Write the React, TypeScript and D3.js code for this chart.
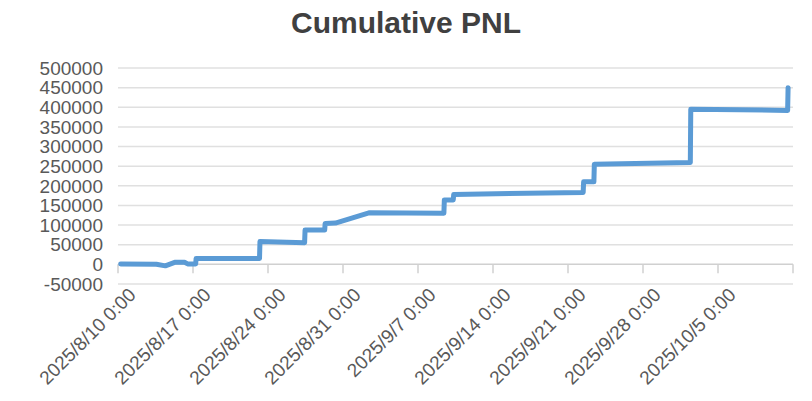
import React from "react";
import * as d3 from "d3";

const titleText = "Cumulative PNL";

// Timestamps of the cumulative PNL series (local time)
const times: string[] = [
  "2025-08-10T06:00", "2025-08-13T14:00", "2025-08-14T10:00", "2025-08-15T07:00",
  "2025-08-16T05:00", "2025-08-16T12:00", "2025-08-17T06:00", "2025-08-17T07:00",
  "2025-08-23T05:00", "2025-08-23T06:00", "2025-08-27T10:00", "2025-08-27T11:00",
  "2025-08-29T07:00", "2025-08-29T08:00", "2025-08-30T07:00", "2025-09-02T10:00",
  "2025-09-09T10:00", "2025-09-09T11:00", "2025-09-10T07:00", "2025-09-10T08:00",
  "2025-09-22T10:00", "2025-09-22T11:00", "2025-09-23T10:00", "2025-09-23T11:00",
  "2025-10-02T10:00", "2025-10-02T11:00", "2025-10-11T12:00", "2025-10-11T13:00",
];

const pnl: number[] = [
  500, 0, -4000, 5000,
  5000, 1000, 1000, 15000,
  15000, 58000, 55000, 87000,
  87000, 104000, 105000, 131000,
  130000, 164000, 164000, 178000,
  183000, 210000, 210000, 255000,
  259000, 395000, 392000, 450000,
];

const yTickValues: number[] = [-50000, 0, 50000, 100000, 150000, 200000, 250000, 300000, 350000, 400000, 450000, 500000];
const xTickDates: string[] = [
  "2025-08-10", "2025-08-17", "2025-08-24", "2025-08-31", "2025-09-07",
  "2025-09-14", "2025-09-21", "2025-09-28", "2025-10-05", "2025-10-12",
];
const xDomain: string[] = ["2025-08-10", "2025-10-12"];

const parse = (s: string) => new Date(s.length === 10 ? s + "T00:00" : s);
const fmt = (d: Date) => `${d.getFullYear()}/${d.getMonth() + 1}/${d.getDate()} 0:00`;

export default function App() {
  const W = 812, H = 401;
  const left = 118, right = 793, top = 68, bottom = 283.9;
  const x = d3.scaleTime().domain(xDomain.map(parse)).range([left, right]);
  const y = d3.scaleLinear().domain([-50000, 500000]).range([bottom, top]);
  const data = times.map((t, i) => ({ t: parse(t), v: pnl[i] }));
  const line = d3.line<{ t: Date; v: number }>().x(d => x(d.t)).y(d => y(d.v));
  const font = "'Liberation Sans', Arial, Helvetica, sans-serif";
  const xTicks = xTickDates.map(parse);

  return (
    <svg width={W} height={H} style={{ position: "absolute", left: 0, top: 0, background: "#fff" }}
      fontFamily={font}>
      <text x={406} y={33} textAnchor="middle" fontSize={30} fontWeight="bold" fill="#404040">{titleText}</text>
      {yTickValues.map(v => (
        <g key={v}>
          <line x1={left} x2={right} y1={y(v)} y2={y(v)} stroke={v === 0 ? "#d0d0d0" : "#e0e0e0"} strokeWidth={1.5} />
          <text x={103} y={y(v)} dy="0.36em" textAnchor="end" fontSize={19} fill="#595959">{v}</text>
        </g>
      ))}
      {xTicks.map((d, i) => (
        <g key={i}>
          <line x1={x(d)} x2={x(d)} y1={y(0)} y2={y(0) + 9} stroke="#d0d0d0" strokeWidth={1.5} />
          {i < xTicks.length - 1 && (
            <text transform={`translate(${x(d) + 19},${296}) rotate(-45)`} textAnchor="end" fontSize={19} fill="#595959">
              {fmt(d)}
            </text>
          )}
        </g>
      ))}
      <path d={line(data) || ""} fill="none" stroke="#5b9bd5" strokeWidth={5} strokeLinejoin="round" strokeLinecap="round" />
    </svg>
  );
}
